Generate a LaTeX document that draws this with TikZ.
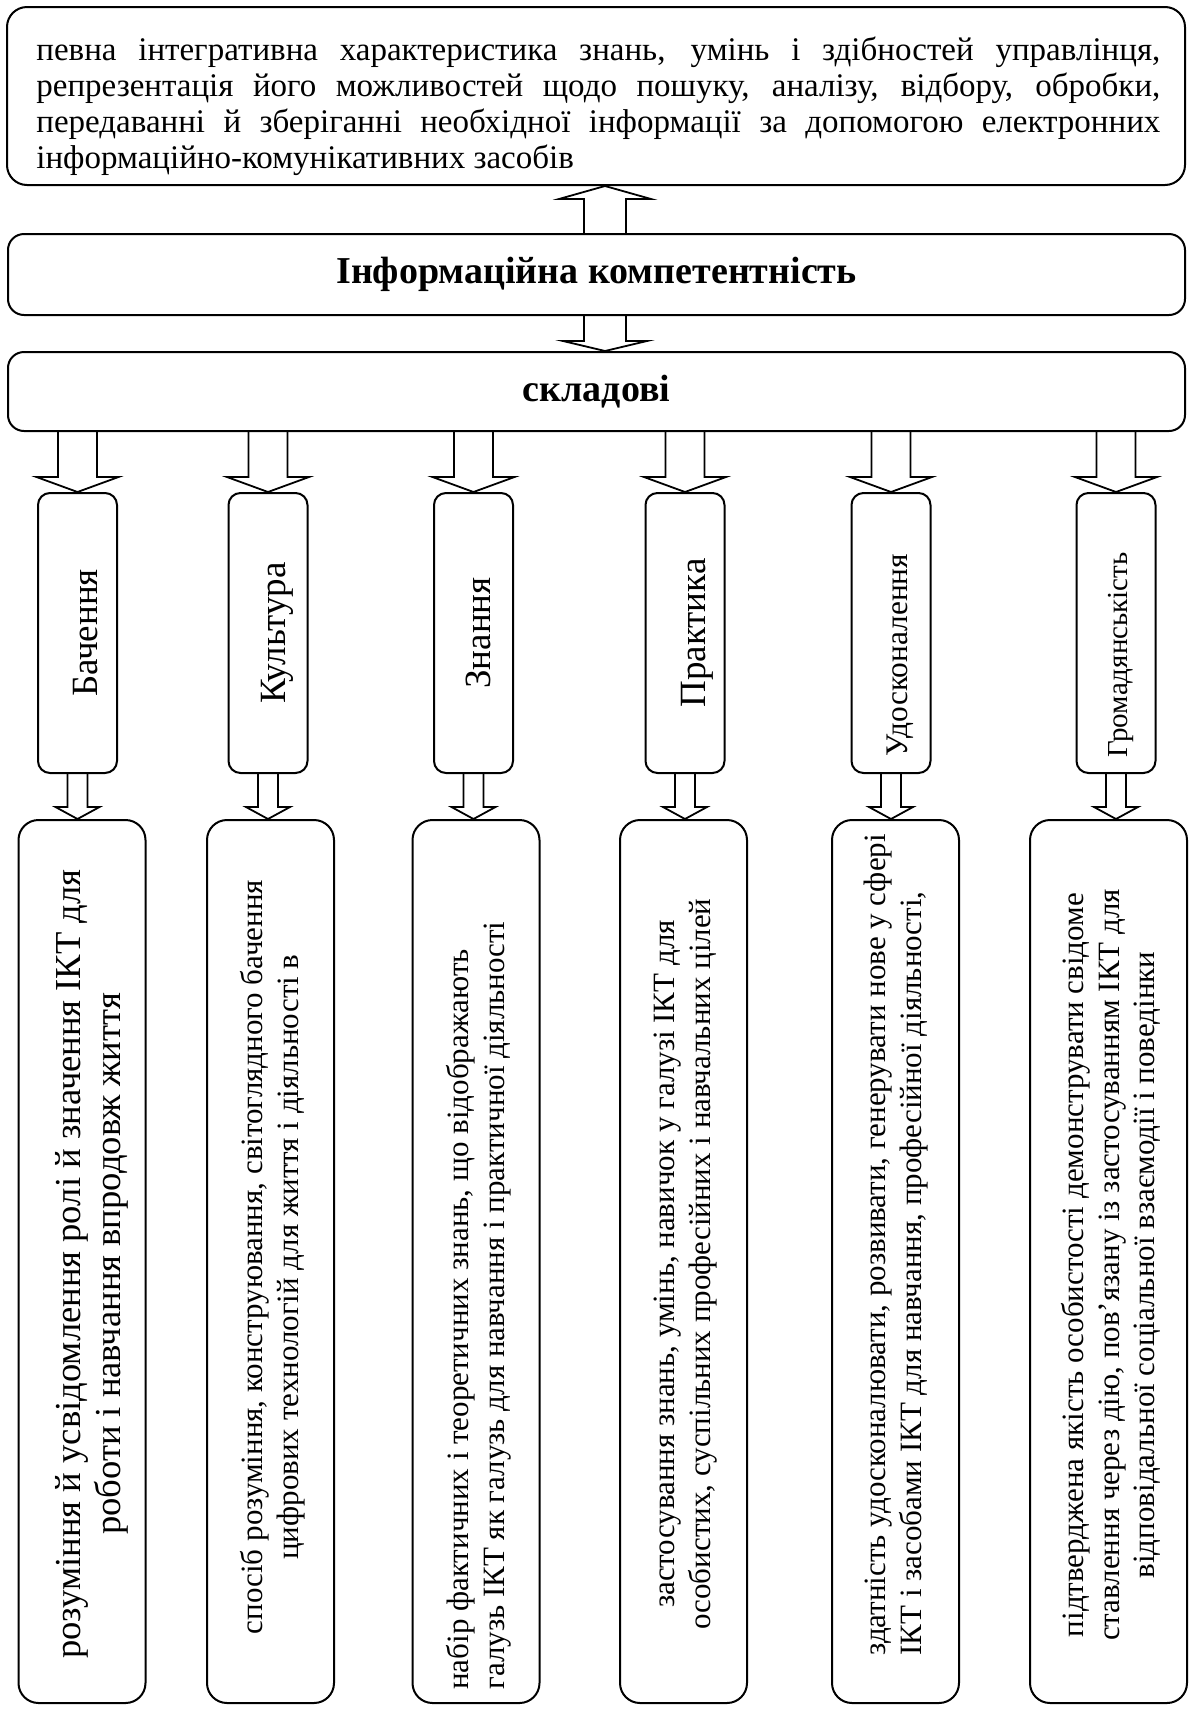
\documentclass[tikz,border=0pt]{standalone}
\usepackage{fontspec}
\setmainfont{Liberation Serif}
\usetikzlibrary{calc}

% one drawing unit = 0.5pt
\def\px{0.5pt}

\tikzset{
  box/.style={draw, line width=1pt, rounded corners=#1, inner sep=0pt},
  box/.default=8pt,
  wide/.style={box=8pt, minimum width=588.5pt, font=\fontsize{19}{22}\selectfont\bfseries},
  sbox/.style={box=6pt, minimum width=39.5pt, minimum height=140pt},
  bbox/.style={box=10pt, minimum width=63.5pt, minimum height=441.5pt},
  lab/.style={rotate=90, inner sep=0pt, anchor=base},
  vtext/.style={rotate=90, inner sep=0pt},
  arrowline/.style={line width=0.9pt, line join=miter},
}

% hollow block arrow pointing down: start point, end point (tip), shaft half width, head half width, head length
\newcommand\blockdown[5]{%
  \draw[arrowline] let \p1=#1, \p2=#2 in
    (\x1-#3*\px,\y1) -- (\x1-#3*\px,\y2+#5*\px) -- (\x1-#4*\px,\y2+#5*\px) -- (\x1,\y2)
    -- (\x1+#4*\px,\y2+#5*\px) -- (\x1+#3*\px,\y2+#5*\px) -- (\x1+#3*\px,\y1);}
% the same, pointing up
\newcommand\blockup[5]{%
  \draw[arrowline] let \p1=#1, \p2=#2 in
    (\x1-#3*\px,\y1) -- (\x1-#3*\px,\y2-#5*\px) -- (\x1-#4*\px,\y2-#5*\px) -- (\x1,\y2)
    -- (\x1+#4*\px,\y2-#5*\px) -- (\x1+#3*\px,\y2-#5*\px) -- (\x1+#3*\px,\y1);}

\newcommand\btxt{\fontsize{15.5}{17.8}\selectfont}

\begin{document}
\begin{tikzpicture}[x=0.5pt,y=-0.5pt]
\useasboundingbox (0,0) rectangle (1192,1709);
\fill[white] (0,0) rectangle (1192,1709);

% definition
\node[box=10pt, minimum width=589pt, minimum height=89pt] (def) at (596,96) {};
\node[inner sep=0pt, anchor=north west, align=left, font=\fontsize{16.5}{18}\selectfont] (deftxt) at (36,36)
  {\makebox[562pt][s]{певна інтегративна характеристика знань, умінь і здібностей управлінця,}\\
   \makebox[562pt][s]{репрезентація його можливостей щодо пошуку, аналізу, відбору, обробки,}\\
   \makebox[562pt][s]{передаванні й зберіганні необхідної інформації за допомогою електронних}\\
   інформаційно-комунікативних засобів};

% title and components
\node[wide, minimum height=40.5pt] (ic) at (596.5,274.5) {Інформаційна компетентність};
\node[wide, minimum height=39.5pt] (sk) at (596.5,391.5) {складові};

\coordinate (upx) at ($(ic.north)+(8.5,0)$);
\coordinate (dnx) at ($(ic.south)+(8.5,0)$);
\blockup{(upx)}{(upx |- def.south)}{21}{46}{13}
\blockdown{(dnx)}{(dnx |- sk.north)}{21}{42}{10}

% component boxes
\node[sbox] (s1) at (77.5,633) {};
\node[sbox] (s2) at (268,633) {};
\node[sbox] (s3) at (473.5,633) {};
\node[sbox] (s4) at (685,633) {};
\node[sbox] (s5) at (891,633) {};
\node[sbox] (s6) at (1116,633) {};

\node[lab, font=\fontsize{18.5}{20}\selectfont] (l1) at ($(s1.center)+(20,0)$) {Бачення};
\node[lab, font=\fontsize{18.5}{20}\selectfont] (l2) at ($(s2.center)+(17,0)$) {Культура};
\node[lab, font=\fontsize{18.5}{20}\selectfont] (l3) at ($(s3.center)+(16.5,0)$) {Знання};
\node[lab, font=\fontsize{18.5}{20}\selectfont] (l4) at ($(s4.center)+(20,0)$) {Практика};
\node[lab, font=\fontsize{15.7}{18}\selectfont] (l5) at ($(s5.center)+(16,22)$) {Удосконалення};
\node[lab, font=\fontsize{14.5}{17}\selectfont] (l6) at ($(s6.center)+(11.5,22)$) {Громадянськість};

% description boxes
\node[bbox] (b1) at (82,1261.5) {};
\node[bbox] (b2) at (270.5,1261.5) {};
\node[bbox] (b3) at (476,1261.5) {};
\node[bbox] (b4) at (683.5,1261.5) {};
\node[bbox] (b5) at (895.5,1261.5) {};
\node[bbox, minimum width=78.5pt] (b6) at (1108.5,1261.5) {};

\node[vtext, anchor=north, align=center, font=\fontsize{18.3}{20}\selectfont] (t1) at (55,1264)
  {розуміння й усвідомлення ролі й значення ІКТ для\\роботи і навчання впродовж життя};
\node[vtext, anchor=north, align=center, font=\btxt] (t2) at (240,1257)
  {спосіб розуміння, конструювання, світоглядного бачення\\цифрових технологій для життя і діяльності в};
\node[vtext, anchor=north west, align=left, font=\btxt] (t3) at (446,1690)
  {набір фактичних і теоретичних знань, що відображають\\галузь ІКТ як галузь для навчання і практичної діяльності};
\node[vtext, anchor=north, align=center, font=\btxt] (t4) at (654,1264)
  {застосування знань, умінь, навичок у галузі ІКТ для\\особистих, суспільних професійних і навчальних цілей};
\node[vtext, anchor=north west, align=left, font=\btxt] (t5) at (864,1656)
  {здатність удосконалювати, розвивати, генерувати нове у сфері\\ІКТ і засобами ІКТ для навчання, професійної діяльності,};
\node[vtext, anchor=north, align=center, font=\btxt] (t6) at (1061,1265)
  {підтверджена якість особистості демонструвати свідоме\\ставлення через дію, пов’язану із застосуванням ІКТ для\\відповідальної соціальної взаємодії і поведінки};

% arrows from the components bar to each component, and on to its description
\foreach \i in {1,...,6}{
  \blockdown{(s\i |- sk.south)}{(s\i.north)}{19.5}{41}{15}
  \blockdown{(s\i.south)}{(s\i.south |- b\i.north)}{10}{22}{12}
}
\end{tikzpicture}
\end{document}
